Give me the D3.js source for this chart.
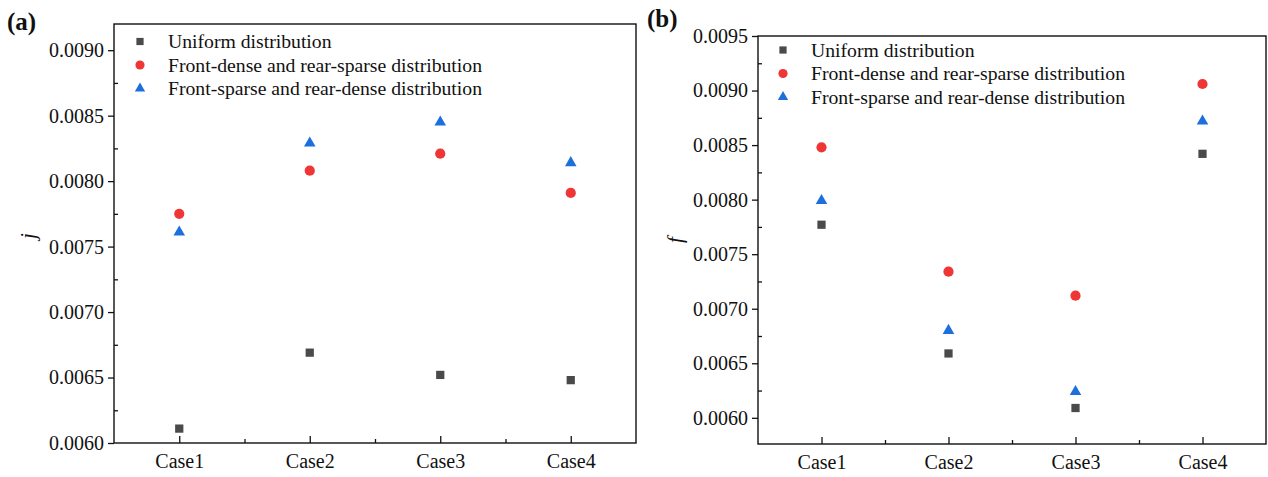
<!DOCTYPE html>
<html>
<head>
<meta charset="utf-8">
<script src="https://cdn.jsdelivr.net/npm/d3@7"></script>
<style>
  html, body { margin: 0; padding: 0; background: #ffffff; }
  svg { display: block; }
  text { font-family: "Liberation Serif", "Times New Roman", serif; fill: #111; }
</style>
</head>
<body>
<svg id="chart" width="1268" height="477"></svg>
<script>
// Categories and series
const categories = ["Case1", "Case2", "Case3", "Case4"];
const seriesNames = [
  "Uniform distribution",
  "Front-dense and rear-sparse distribution",
  "Front-sparse and rear-dense distribution"
];

// Panel (a): j
const jUniform     = [0.00611, 0.00669, 0.00652, 0.00648];
const jFrontDense  = [0.00775, 0.00808, 0.00821, 0.00791];
const jFrontSparse = [0.00761, 0.00829, 0.00845, 0.00814];
const jTicks = [0.0060, 0.0065, 0.0070, 0.0075, 0.0080, 0.0085, 0.0090];

// Panel (b): f
const fUniform     = [0.00777, 0.00659, 0.00609, 0.00842];
const fFrontDense  = [0.00848, 0.00734, 0.00712, 0.00906];
const fFrontSparse = [0.00799, 0.00680, 0.00624, 0.00872];
const fTicks = [0.0060, 0.0065, 0.0070, 0.0075, 0.0080, 0.0085, 0.0090, 0.0095];

const markerStyles = [
  { type: d3.symbolSquare,   color: "#4a4a4a", size: 68, legendSize: 52 },
  { type: d3.symbolCircle,   color: "#ef3535", size: 82, legendSize: 66 },
  { type: d3.symbolTriangle, color: "#1c6fdd", size: 58, legendSize: 46 }
];

const svg = d3.select("#chart");

function drawPanel(opt) {
  const g = svg.append("g");
  const x = d3.scaleLinear().domain([0.5, categories.length + 0.5]).range([opt.left, opt.right]);
  const y = d3.scaleLinear().domain(opt.yDomain).range([opt.bottom, opt.top]);

  // y minor ticks (inside)
  const yMinor = [];
  for (let i = 0; i < opt.ticks.length; i++) {
    const m = opt.ticks[i] + 0.00025;
    if (m < opt.yDomain[1] - 1e-9) yMinor.push(m);
  }
  const yMinorAxis = d3.axisLeft(y).tickValues(yMinor).tickSize(-4).tickFormat("");
  g.append("g").attr("transform", `translate(${opt.left},0)`).call(yMinorAxis)
    .call(s => s.select(".domain").remove())
    .call(s => s.selectAll("line").attr("stroke", "#111").attr("stroke-width", 1.3));

  // y major ticks (outside) with labels
  const yAxis = d3.axisLeft(y).tickValues(opt.ticks).tickSize(6).tickPadding(4)
    .tickFormat(d3.format(".4f"));
  g.append("g").attr("transform", `translate(${opt.left},0)`).call(yAxis)
    .call(s => s.select(".domain").remove())
    .call(s => s.selectAll("line").attr("stroke", "#111").attr("stroke-width", 1.3))
    .call(s => s.selectAll("text").attr("font-size", 20)
      .attr("font-family", "Liberation Serif").attr("fill", "#111"));

  // x minor ticks (inside)
  const xMinor = d3.range(1.5, categories.length, 1);
  g.append("g").attr("transform", `translate(0,${opt.bottom})`)
    .call(d3.axisBottom(x).tickValues(xMinor).tickSize(-4).tickFormat(""))
    .call(s => s.select(".domain").remove())
    .call(s => s.selectAll("line").attr("stroke", "#111").attr("stroke-width", 1.3));

  // x major ticks (inside) with labels
  g.append("g").attr("transform", `translate(0,${opt.bottom})`)
    .call(d3.axisBottom(x).tickValues(d3.range(1, categories.length + 1))
      .tickSizeInner(-7).tickSizeOuter(0).tickPadding(11)
      .tickFormat((d) => categories[d - 1]))
    .call(s => s.select(".domain").remove())
    .call(s => s.selectAll("line").attr("stroke", "#111").attr("stroke-width", 1.3))
    .call(s => s.selectAll("text").attr("font-size", 20)
      .attr("font-family", "Liberation Serif").attr("fill", "#111"));

  // Frame
  g.append("rect")
    .attr("x", opt.left).attr("y", opt.top)
    .attr("width", opt.right - opt.left).attr("height", opt.bottom - opt.top)
    .attr("fill", "none").attr("stroke", "#111").attr("stroke-width", 1.4);

  // Data points
  opt.series.forEach((vals, si) => {
    const st = markerStyles[si];
    g.append("g").selectAll("path")
      .data(vals)
      .join("path")
      .attr("d", d3.symbol().type(st.type).size(st.size))
      .attr("transform", (d, i) => `translate(${x(i + 1)},${y(d)})`)
      .attr("fill", st.color);
  });

  // Legend
  const lg = g.append("g");
  seriesNames.forEach((name, si) => {
    const st = markerStyles[si];
    const ly = opt.legendY + si * 23.5;
    lg.append("path")
      .attr("d", d3.symbol().type(st.type).size(st.legendSize))
      .attr("transform", `translate(${opt.legendX},${ly})`)
      .attr("fill", st.color);
    lg.append("text")
      .attr("x", opt.legendX + 28).attr("y", ly).attr("dy", "0.35em")
      .attr("font-size", 19.7)
      .text(name);
  });

  // Axis title
  g.append("text")
    .attr("transform", `translate(${opt.titleX},${opt.titleY}) rotate(-90)`)
    .attr("text-anchor", "middle")
    .attr("font-size", 21).attr("font-style", "italic")
    .text(opt.title);

  // Panel label
  g.append("text")
    .attr("x", opt.labelX).attr("y", opt.labelY)
    .attr("font-size", 25).attr("font-weight", "bold")
    .text(opt.label);
}

drawPanel({
  left: 114, right: 636, top: 24, bottom: 443,
  yDomain: [0.0060, 0.0092], ticks: jTicks,
  series: [jUniform, jFrontDense, jFrontSparse],
  legendX: 140, legendY: 41.5,
  title: "j", titleX: 35, titleY: 236,
  label: "(a)", labelX: 7, labelY: 30
});

drawPanel({
  left: 758, right: 1266, top: 36, bottom: 444,
  yDomain: [0.00576, 0.0095], ticks: fTicks,
  series: [fUniform, fFrontDense, fFrontSparse],
  legendX: 783, legendY: 50,
  title: "f", titleX: 682, titleY: 240,
  label: "(b)", labelX: 647, labelY: 27
});
</script>
</body>
</html>
